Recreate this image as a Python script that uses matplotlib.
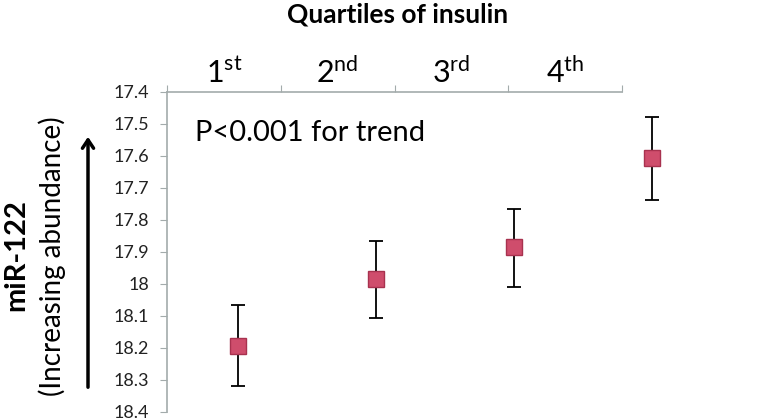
import matplotlib.pyplot as plt
import numpy as np

quartiles = [1, 2, 3, 4]
quartile_labels = [r'1$^{\mathregular{st}}$', r'2$^{\mathregular{nd}}$',
                   r'3$^{\mathregular{rd}}$', r'4$^{\mathregular{th}}$']
mir122 = [18.195, 17.985, 17.885, 17.605]
err_low = [0.13, 0.12, 0.12, 0.128]
err_high = [0.125, 0.12, 0.123, 0.132]
yticks = [17.4, 17.5, 17.6, 17.7, 17.8, 17.9, 18.0, 18.1, 18.2, 18.3, 18.4]

plt.rcParams['font.family'] = ['Lato', 'DejaVu Sans']
plt.rcParams['mathtext.fontset'] = 'custom'
plt.rcParams['mathtext.rm'] = 'Lato'

W, H = 782, 420
fig = plt.figure(figsize=(W / 100, H / 100), dpi=100)
x0, x1, y0, y1 = 167, 722, 92, 412
ax = fig.add_axes([x0 / W, 1 - y1 / H, (x1 - x0) / W, (y1 - y0) / H])

axis_col = '#a3abab'

# points + error bars (errors: low = toward smaller value = upward on inverted axis)
ax.errorbar(quartiles, mir122, yerr=[err_low, err_high], fmt='none',
            ecolor='black', elinewidth=1.3, capsize=5, capthick=1.3, zorder=2)
ax.plot(quartiles, mir122, 's', ms=12, mfc='#cf4d6c', mec='#a8324f', mew=1.0, zorder=3)

ax.set_xlim(1 - (238 - x0) / 138, 4 + (x1 - 652) / 138)
ax.set_ylim(18.4, 17.4)
ax.set_yticks(yticks)
ax.set_yticklabels([('%g' % v) for v in yticks], fontsize=13, color='#222222')
ax.tick_params(axis='y', direction='out', length=5, color=axis_col, pad=8)
ax.set_xticks([])
for s in ['right', 'bottom', 'top']:
    ax.spines[s].set_visible(False)
ax.spines['left'].set_color(axis_col)
ax.spines['left'].set_linewidth(1.2)

# category axis on top
top = ax.twiny()
top.set_xlim(0, (x1 - x0) / 113.75)
top.spines['top'].set_bounds(0, 4)
top.spines['top'].set_color(axis_col)
top.spines['top'].set_linewidth(1.2)
for s in ['right', 'bottom', 'left']:
    top.spines[s].set_visible(False)
top.set_xticks([0, 1, 2, 3, 4])
top.set_xticklabels([])
top.set_xticks([0.5, 1.5, 2.5, 3.5], minor=True)
top.set_xticklabels(quartile_labels, minor=True, fontsize=22)
top.tick_params(axis='x', which='major', direction='out', length=5, color=axis_col)
top.tick_params(axis='x', which='minor', length=0, pad=3)

fig.text(398 / W, 1 - 15 / H, 'Quartiles of insulin', ha='center', va='center',
         fontsize=19, fontweight='bold')

ax.text(195 / W, 1 - 133 / H, 'P<0.001 for trend', transform=fig.transFigure,
        ha='left', va='center', fontsize=21)

fig.text(16 / W, 1 - 255 / H, 'miR-122', rotation=90, ha='center', va='center',
         fontsize=21, fontweight='bold')
fig.text(52 / W, 1 - 256 / H, '(Increasing abundance)', rotation=90, ha='center',
         va='center', fontsize=20)
fig.patches.append(plt.matplotlib.patches.FancyArrowPatch(
    (88 / W, 1 - 390 / H), (88 / W, 1 - 134 / H), transform=fig.transFigure,
    arrowstyle='->,head_length=6,head_width=4', lw=2.5, color='black'))

fig.savefig('out.png', dpi=100)
